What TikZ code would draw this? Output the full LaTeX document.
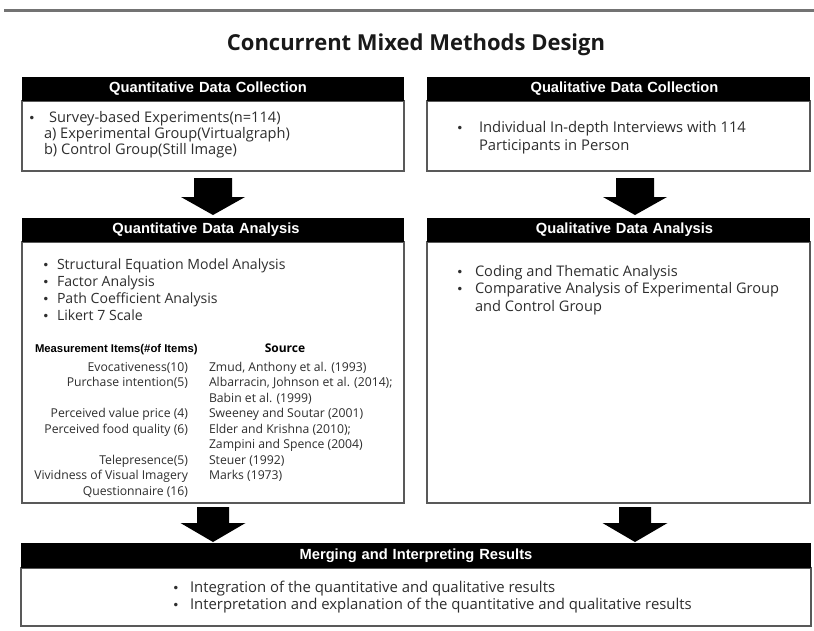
\documentclass[tikz,border=0pt]{standalone}
\usepackage{fontspec}
\setmainfont{Open Sans}
\newfontfamily\hdfont{Liberation Sans}
\newfontfamily\bulfont{DejaVu Sans}
\usetikzlibrary{calc}
\newcommand\blockarrow[5]{\fill[arrowfill] let \p1=(#1), \p2=(#2) in
  (\x1-#3,\y1) -- (\x1+#3,\y1) -- (\x1+#3,\y2+#5) -- (\x1+#4,\y2+#5) -- (\x1,\y2)
  -- (\x1-#4,\y2+#5) -- (\x1-#3,\y2+#5) -- cycle;}
\newcommand\bl{\makebox[0pt]{\bulfont\fontsize{12}{12}\selectfont •}}
\begin{document}
\begin{tikzpicture}[x=1pt,y=-1pt,
  hdr/.style={fill=black, text=white, inner sep=0pt, outer sep=0pt, anchor=north west,
    minimum height=24pt, font=\hdfont\bfseries\fontsize{14.7}{16}\selectfont, align=center},
  bodybox/.style={draw=black!65, line width=1.2pt, fill=white, inner sep=0pt, outer sep=0pt,
    anchor=north west},
  txt/.style={inner sep=0pt, outer sep=0pt, anchor=base west, text=black!82},
  arrowfill/.style={fill=black},
  topline/.style={draw=black!55, line width=3pt}]
\useasboundingbox[fill=white] (0,0) rectangle (814,630);
\draw[topline] (4,10) -- (814,10);
\node[inner sep=0pt, anchor=base, font=\bfseries\fontsize{22}{24}\selectfont, text=black!90]
  (title) at (416,50) {Concurrent Mixed Methods Design};

% ---- row 1
\node[bodybox, minimum width=382pt, minimum height=70pt] (qncb) at (22,101) {};
\node[hdr, text width=382pt] (qnch) at (22,77) {\hspace*{-10pt}Quantitative Data Collection};
\node[bodybox, minimum width=383pt, minimum height=70pt] (qlcb) at (427,101) {};
\node[hdr, text width=383pt] (qlch) at (427,77) {\hspace*{12pt}Qualitative Data Collection};

% ---- row 2
\node[bodybox, minimum width=382pt, minimum height=261pt] (qnab) at (22,242) {};
\node[hdr, text width=382pt] (qnah) at (22,218) {\hspace*{-14pt}Quantitative Data Analysis};
\node[bodybox, minimum width=383pt, minimum height=261pt] (qlab) at (427,242) {};
\node[hdr, text width=383pt] (qlah) at (427,218) {\hspace*{12pt}Qualitative Data Analysis};

% ---- row 3
\node[bodybox, minimum width=790pt, minimum height=58pt] (mb) at (21,568) {};
\node[hdr, text width=790pt, minimum height=25pt] (mh) at (21,543) {Merging and Interpreting Results};

% ---- arrows
\coordinate (a1s) at ($(qncb.south)+(0,7)$);
\coordinate (a1e) at ($(qnah.north)+(0,-3)$);
\coordinate (a2s) at ($(qlcb.south)+(16.5,7)$);
\coordinate (a2e) at ($(qlah.north)+(16.5,-3)$);
\coordinate (a3s) at ($(qnab.south)+(0,4)$);
\coordinate (a3e) at ($(mh.north west)+(192,-1)$);
\coordinate (a4s) at ($(qlab.south)+(16.5,4)$);
\coordinate (a4e) at ($(mh.north west)+(614,-1)$);
\blockarrow{a1s}{a1e}{19pt}{32pt}{18pt}
\blockarrow{a2s}{a2e}{19pt}{32pt}{18pt}
\blockarrow{a3s}{a3e}{16pt}{32.5pt}{19pt}
\blockarrow{a4s}{a4e}{16pt}{32.5pt}{19pt}

% ---- texts row 1
\node[txt, font=\fontsize{14.6}{16}\selectfont] (t11) at (32,122)
  {\begin{tabular}[t]{@{}c@{\hspace{17pt}}l@{}}\bl & Survey-based Experiments(n=114)\\
   & \hspace*{-5pt}a) Experimental Group(Virtualgraph)\\
   & \hspace*{-5pt}b) Control Group(Still Image)\end{tabular}};
\node[txt, font=\fontsize{14.8}{18}\selectfont] (t21) at (460,132)
  {\begin{tabular}[t]{@{}c@{\hspace{19pt}}l@{}}\bl & Individual In-depth Interviews with 114\\
   & Participants in Person\end{tabular}};

% ---- texts row 2 left
\node[txt, font=\fontsize{14.1}{17.3}\selectfont] (t31) at (46,269)
  {\begin{tabular}[t]{@{}c@{\hspace{11pt}}l@{}}\bl & Structural Equation Model Analysis\\
   \bl & Factor Analysis\\ \bl & Path Coefficient Analysis\\ \bl & Likert 7 Scale\end{tabular}};

% table
\node[txt, font=\hdfont\bfseries\fontsize{11.3}{13}\selectfont, text=black] (th1) at (35,352)
  {Measurement Items(\#of Items)};
\node[inner sep=0pt, anchor=base, font=\bfseries\fontsize{12}{14}\selectfont, text=black] (th2) at (285,352) {Source};
\node[inner sep=0pt, outer sep=0pt, anchor=base east, text=black!82,
  font=\fontsize{12.2}{15.5}\selectfont] (items) at (188,371)
  {\begin{tabular}[t]{@{}r@{}}Evocativeness(10)\\ Purchase intention(5)\\ \\
   Perceived value price (4)\\ Perceived food quality (6)\\ \\
   Telepresence(5)\\ Vividness of Visual Imagery\\ Questionnaire (16)\end{tabular}};
\node[txt, font=\fontsize{12.2}{15.5}\selectfont] (srcs) at (209,371)
  {\begin{tabular}[t]{@{}l@{}}Zmud, Anthony et al. (1993)\\ Albarracin, Johnson et al. (2014);\\
   Babin et al. (1999)\\ Sweeney and Soutar (2001)\\ Elder and Krishna (2010);\\
   Zampini and Spence (2004)\\ Steuer (1992)\\ Marks (1973)\end{tabular}};

% ---- texts row 2 right
\node[txt, font=\fontsize{14.6}{17.5}\selectfont] (t41) at (460,276)
  {\begin{tabular}[t]{@{}c@{\hspace{15pt}}l@{}}\bl & Coding and Thematic Analysis\\
   \bl & Comparative Analysis of Experimental Group\\ & and Control Group\end{tabular}};

% ---- texts row 3
\node[txt, font=\fontsize{14.9}{17}\selectfont] (t51) at (176,592)
  {\begin{tabular}[t]{@{}c@{\hspace{14pt}}l@{}}\bl & Integration of the quantitative and qualitative results\\
   \bl & Interpretation and explanation of the quantitative and qualitative results\end{tabular}};
\end{tikzpicture}
\end{document}
